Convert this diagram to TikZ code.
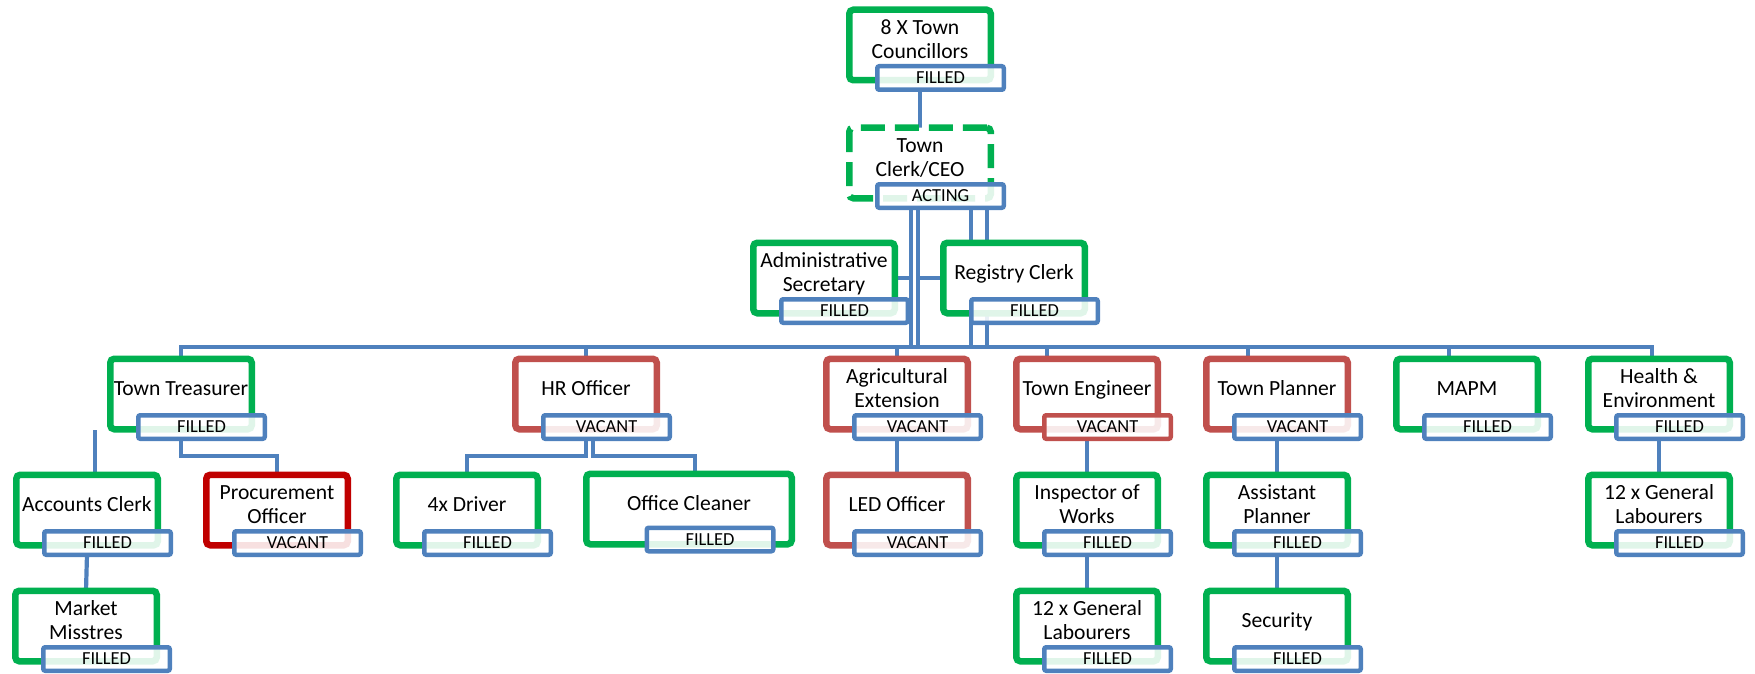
\documentclass[tikz,border=0pt]{standalone}
\usepackage{fontspec}
\setmainfont{Carlito}
\usepackage{tikz}
\usetikzlibrary{positioning, calc, backgrounds}

\definecolor{grn}{RGB}{0,176,80}
\definecolor{blu}{RGB}{79,129,189}
\definecolor{vred}{RGB}{192,80,77}
\definecolor{dred}{RGB}{192,0,0}

\begin{document}
\begin{tikzpicture}[
        x=0.5pt, y=-0.5pt,
        post/.style={rectangle, draw=grn, line width=3.25pt, rounded corners=2pt, fill=white,
            minimum width=70.75pt, minimum height=35.25pt, inner sep=0pt, outer sep=0pt,
            align=center, text depth=5.6pt, font=\fontsize{10.8}{12}\selectfont},
        vac/.style={post, draw=vred},
        vacdark/.style={post, draw=dred},
        acting/.style={post, dash pattern=on 12pt off 5pt},
        stat/.style={rectangle, draw=blu, line width=2.25pt, rounded corners=1pt, fill=white,
            fill opacity=0.88, text opacity=1, minimum width=63.25pt, minimum height=11.75pt,
            inner sep=0pt, outer sep=0pt, font=\fontsize{9.2}{10}\selectfont},
        statred/.style={stat, draw=vred},
        link/.style={draw=blu, line width=2.1pt}
    ]
    \useasboundingbox (0,0) rectangle (1755,674);

    % Council and CEO
    \node[post] (cou) at (920,45) {8 X Town\\Councillors};
    \node[stat] (cou-s) at ([shift={(20.5,33)}]cou) {FILLED};
    \node[acting] (ceo) at (920,163) {Town\\Clerk/CEO};
    \node[stat] (ceo-s) at ([shift={(20.5,33)}]ceo) {ACTING};

    % Assistants
    \node[post] (adm) at (824,278) {Administrative\\Secretary};
    \node[stat] (adm-s) at ([shift={(20.5,33)}]adm) {FILLED};
    \node[post] (reg) at (1014,278) {Registry Clerk};
    \node[stat] (reg-s) at ([shift={(20.5,33)}]reg) {FILLED};

    % Heads of department
    \node[post] (treas) at (181,394) {Town Treasurer};
    \node[stat] (treas-s) at ([shift={(20.5,33)}]treas) {FILLED};
    \node[vac] (hr) at (586,394) {HR Officer};
    \node[stat] (hr-s) at ([shift={(20.5,33)}]hr) {VACANT};
    \node[vac] (agri) at (897,394) {Agricultural\\Extension};
    \node[stat] (agri-s) at ([shift={(20.5,33)}]agri) {VACANT};
    \node[vac] (eng) at (1087,394) {Town Engineer};
    \node[statred] (eng-s) at ([shift={(20.5,33)}]eng) {VACANT};
    \node[vac] (pla) at (1277,394) {Town Planner};
    \node[stat] (pla-s) at ([shift={(20.5,33)}]pla) {VACANT};
    \node[post] (mapm) at (1467,394) {MAPM};
    \node[stat] (mapm-s) at ([shift={(20.5,33)}]mapm) {FILLED};
    \node[post] (hea) at (1659,394) {Health \&\\Environment};
    \node[stat] (hea-s) at ([shift={(20.5,33)}]hea) {FILLED};

    % Staff
    \node[post] (acc) at (87,510) {Accounts Clerk};
    \node[stat] (acc-s) at ([shift={(20.5,33)}]acc) {FILLED};
    \node[vacdark] (proc) at (277,510) {Procurement\\Officer};
    \node[stat] (proc-s) at ([shift={(20.5,33)}]proc) {VACANT};
    \node[post] (drv) at (467,510) {4x Driver};
    \node[stat] (drv-s) at ([shift={(20.5,33)}]drv) {FILLED};
    \node[post, minimum width=102.75pt] (cln) at (689,509) {Office Cleaner};
    \node[stat] (cln-s) at ([shift={(21,30.5)}]cln) {FILLED};
    \node[vac] (led) at (897,510) {LED Officer};
    \node[stat] (led-s) at ([shift={(20.5,33)}]led) {VACANT};
    \node[post] (ins) at (1087,510) {Inspector of\\Works};
    \node[stat] (ins-s) at ([shift={(20.5,33)}]ins) {FILLED};
    \node[post] (ast) at (1277,510) {Assistant\\Planner};
    \node[stat] (ast-s) at ([shift={(20.5,33)}]ast) {FILLED};
    \node[post] (lab2) at (1659,510) {12 x General\\Labourers};
    \node[stat] (lab2-s) at ([shift={(20.5,33)}]lab2) {FILLED};

    % Bottom row
    \node[post] (mkt) at (86,626) {Market\\Misstres};
    \node[stat] (mkt-s) at ([shift={(20.5,33)}]mkt) {FILLED};
    \node[post] (lab1) at (1087,626) {12 x General\\Labourers};
    \node[stat] (lab1-s) at ([shift={(20.5,33)}]lab1) {FILLED};
    \node[post] (sec) at (1277,626) {Security};
    \node[stat] (sec-s) at ([shift={(20.5,33)}]sec) {FILLED};

    \begin{scope}[on background layer]
    % Links: top
    \draw[link] (ceo.north |- cou-s.south) -- (ceo.north);
    \coordinate (ca) at ($(ceo.center |- ceo-s.south)+(-9,0)$);
    \coordinate (cb) at ($(ceo.center |- ceo-s.south)+(-2,0)$);
    \coordinate (cc) at ($(ceo.center |- ceo-s.south)+(51,0)$);
    \coordinate (cd) at ($(ceo.center |- ceo-s.south)+(67,0)$);
    \coordinate (bus) at (0,347);
    \draw[link] (ca) |- (adm.east);
    \draw[link] (cb) |- (reg.west);

    % Links: CEO to departments
    \draw[link] (cd) -- (cd |- bus) -| (treas.north);
    \draw[link] (cc) -- (cc |- bus) -| (hr.north);
    \draw[link] (cb) -- (cb |- bus) -| (agri.north);
    \draw[link] (ca) -- (ca |- bus) -| ([xshift=-20pt]eng.north);
    \draw[link] (ca) -- (ca |- bus) -| ([xshift=-14.5pt]pla.north);
    \draw[link] (cb) -- (cb |- bus) -| ([xshift=-9pt]mapm.north);
    \draw[link] (cd) -- (cd |- bus) -| ([xshift=-3.5pt]hea.north);

    % Links: departments to staff
    \coordinate (acc-up) at (95,430);
    \draw[link] (acc-up) -- (acc-up |- acc.north);
    \draw[link] (treas.center |- treas-s.south) -- ++(0,17) -| (proc.north);
    \draw[link] (acc.center |- acc-s.south) -- (mkt.north);
    \draw[link] (hr.center |- hr-s.south) -- ++(0,17) -| (drv.north);
    \draw[link] ($(hr.center |- hr-s.south)+(7,0)$) -- ++(0,17) -| ([xshift=3pt]cln.north);
    \draw[link] (agri.center |- agri-s.south) -- (led.north);
    \draw[link] (eng.center |- eng-s.south) -- (ins.north);
    \draw[link] (ins.center |- ins-s.south) -- (lab1.north);
    \draw[link] (pla.center |- pla-s.south) -- (ast.north);
    \draw[link] (ast.center |- ast-s.south) -- (sec.north);
    \draw[link] (hea.center |- hea-s.south) -- (lab2.north);
    \end{scope}
\end{tikzpicture}
\end{document}
